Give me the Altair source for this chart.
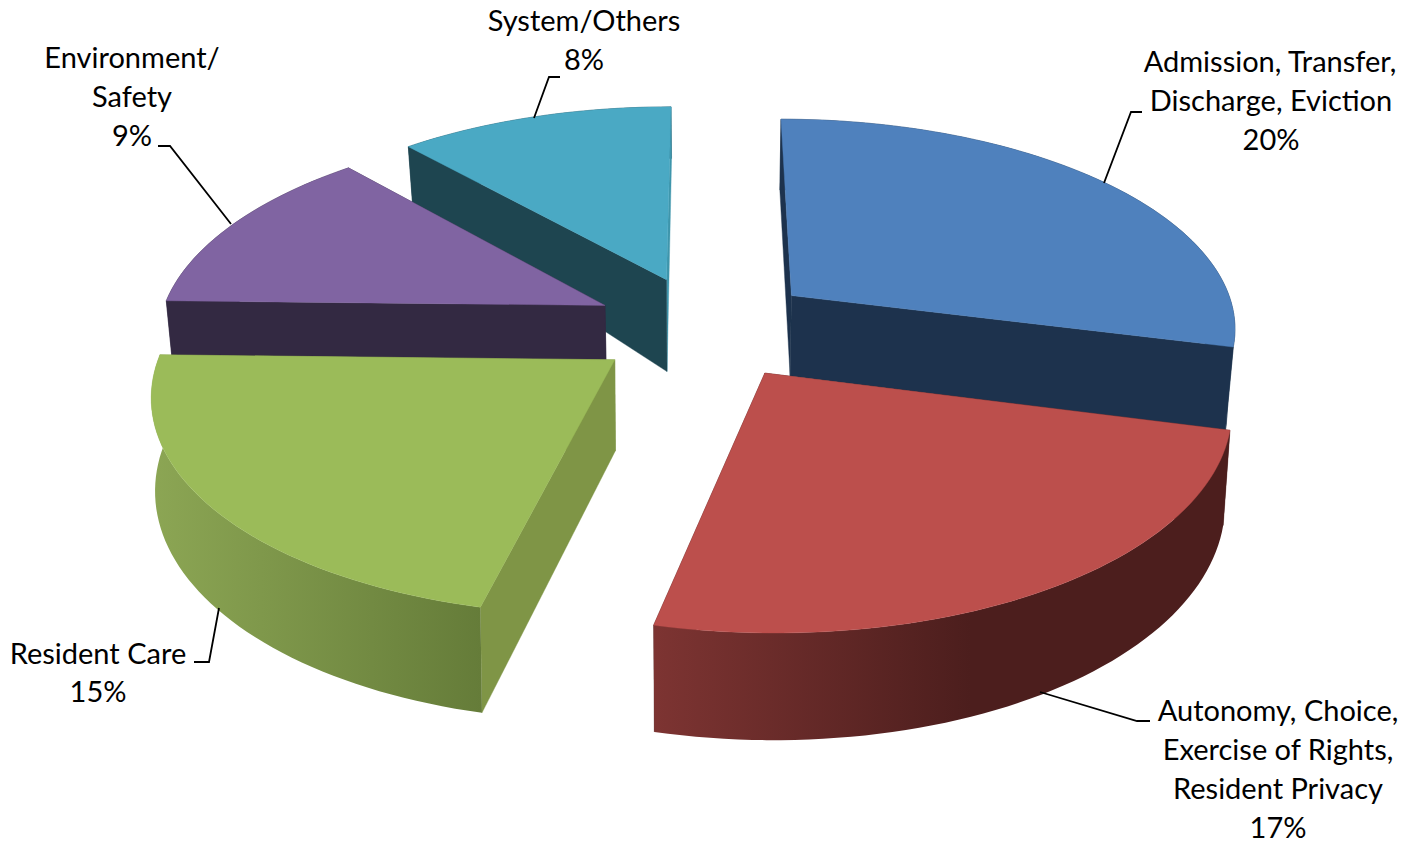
import numpy as np
import pandas as pd
import altair as alt

# --- data
categories = ["Admission, Transfer, Discharge, Eviction",
              "Autonomy, Choice, Exercise of Rights, Resident Privacy",
              "Resident Care", "Environment/Safety", "System/Others"]
values = [20, 17, 15, 9, 8]

label_text = ["Admission, Transfer,", "Discharge, Eviction", "20%",
              "Autonomy, Choice,", "Exercise of Rights,", "Resident Privacy", "17%",
              "Resident Care", "15%",
              "Environment/", "Safety", "9%",
              "System/Others", "8%"]
label_x = [1270, 1271, 1271, 1278, 1278, 1278, 1278, 98, 98, 132, 132, 132, 584, 584]
label_y = [62, 101, 140, 711, 750, 789, 828, 654, 692, 58, 97, 136, 21, 60]

leader_id = [0, 0, 0, 1, 1, 1, 2, 2, 2, 3, 3, 3, 4, 4, 4]
leader_x = [1104, 1131, 1142, 1040, 1137, 1150, 219, 209, 194, 231, 170, 158, 534, 549, 560]
leader_y = [183, 112, 112, 692, 721, 721, 608, 662, 662, 224, 146, 146, 118, 77, 77]

# --- camera / pie geometry
CX, HORIZON, C, Q, S = 705.0, -1168.0, 1495.0, 0.14, 447.0
EXPLODE = 0.25
wall_shrink = [0.985, 0.987, 0.993, 0.985, 0.985]
wall_depth = [0.055, 0.0595, 0.0595, 0.055, 0.07]
wall_q = [0.14, 0.14, 0.14, 0.14, 0.167]

top_color = ["#4f81bd", "#bc4f4c", "#9bbb59", "#8064a2", "#4aa9c4"]
wall_color = ["#1d324d", "#4c1e1d", "#667e3a", "#332942", "#1e4550"]
start_face_color = ["#1d324d", "#4c1e1d", "#7f9546", "#332942", "#1e4550"]
end_face_color = ["#1d324d", "#4c1e1d", "#7f9546", "#332942", "#3f96ac"]
wall_stops = {1: [(0.0, "#7d3432"), (0.55, "#4c1e1d"), (1.0, "#4c1e1d")],
              2: [(0.0, "#8ca654"), (1.0, "#657c39")]}
draw_order = [4, 3, 0, 1, 2]
wall_over_faces = [1, 2]

shares = np.array(values, dtype=float) / sum(values) * 2 * np.pi
ends = np.cumsum(shares)
starts = ends - shares


def project(i, X, Y, bottom=False):
    w = 1 + Q * Y
    sx = CX + S * X / w
    sy = HORIZON + C / w
    if bottom:
        sx = CX + (sx - CX) * wall_shrink[i]
        sy = HORIZON + C * (1 + wall_depth[i]) / (1 + wall_q[i] * Y)
    return sx, sy


def slice_parts(i):
    mid = (starts[i] + ends[i]) / 2
    ox, oy = EXPLODE * np.sin(mid), EXPLODE * np.cos(mid)
    n = max(int((ends[i] - starts[i]) / np.radians(1.5)), 4)
    th = np.linspace(starts[i], ends[i], n)
    X, Y = ox + np.sin(th), oy + np.cos(th)
    ax, ay = project(i, ox, oy)
    bx, by = project(i, ox, oy, True)
    tx, ty = project(i, X, Y)
    ux, uy = project(i, X, Y, True)
    return dict(ax=ax, ay=ay, bx=bx, by=by, tx=tx, ty=ty, ux=ux, uy=uy)


xs = alt.Scale(domain=[8, 1416], range=[0, 1408], nice=False, zero=False)
ys = alt.Scale(domain=[843, 8], range=[835, 0], nice=False, zero=False)


def poly(px, py, fill):
    df = pd.DataFrame({"px": px, "py": py, "k": np.arange(len(px))})
    return alt.Chart(df).mark_line(
        interpolate="linear-closed", fill=fill,
        stroke=fill if isinstance(fill, str) else "#5a2a28",
        strokeWidth=0.4 if isinstance(fill, str) else 0,
    ).encode(
        x=alt.X("px:Q", scale=xs, axis=None),
        y=alt.Y("py:Q", scale=ys, axis=None),
        order="k:Q",
    )


layers = []
for i in draw_order:
    p = slice_parts(i)
    fill = wall_color[i]
    if i in wall_stops:
        fill = alt.Gradient(gradient="linear", x1=0, x2=1, y1=0, y2=0,
                            stops=[alt.GradientStop(offset=o, color=c) for o, c in wall_stops[i]])
    wall = poly(np.r_[p["tx"], p["ux"][::-1]], np.r_[p["ty"], p["uy"][::-1]], fill)
    if i not in wall_over_faces:
        layers.append(wall)
    for e, col in ((-1, end_face_color[i]), (0, start_face_color[i])):
        layers.append(poly([p["ax"], p["tx"][e], p["ux"][e], p["bx"]],
                           [p["ay"], p["ty"][e], p["uy"][e], p["by"]], col))
    if i in wall_over_faces:
        layers.append(wall)
    layers.append(poly(np.r_[p["ax"], p["tx"]], np.r_[p["ay"], p["ty"]], top_color[i]))

lead = alt.Chart(pd.DataFrame({"x": leader_x, "y": leader_y, "id": leader_id,
                               "k": np.arange(len(leader_x))})).mark_line(
    color="#000000", strokeWidth=1.8
).encode(
    x=alt.X("x:Q", scale=xs, axis=None),
    y=alt.Y("y:Q", scale=ys, axis=None),
    detail="id:N", order="k:Q",
)
labels = alt.Chart(pd.DataFrame({"x": label_x, "y": label_y, "t": label_text})).mark_text(
    font="Lato", fontSize=29, color="#000000", align="center", baseline="middle", dy=1
).encode(
    x=alt.X("x:Q", scale=xs, axis=None),
    y=alt.Y("y:Q", scale=ys, axis=None),
    text="t:N",
)

chart = alt.layer(*layers, lead, labels).properties(
    width=1408, height=835, padding=0,
    autosize=alt.AutoSizeParams(type="none"),
).configure_view(stroke=None)

chart.save("out.html", embed_options={"renderer": "svg", "actions": False})
